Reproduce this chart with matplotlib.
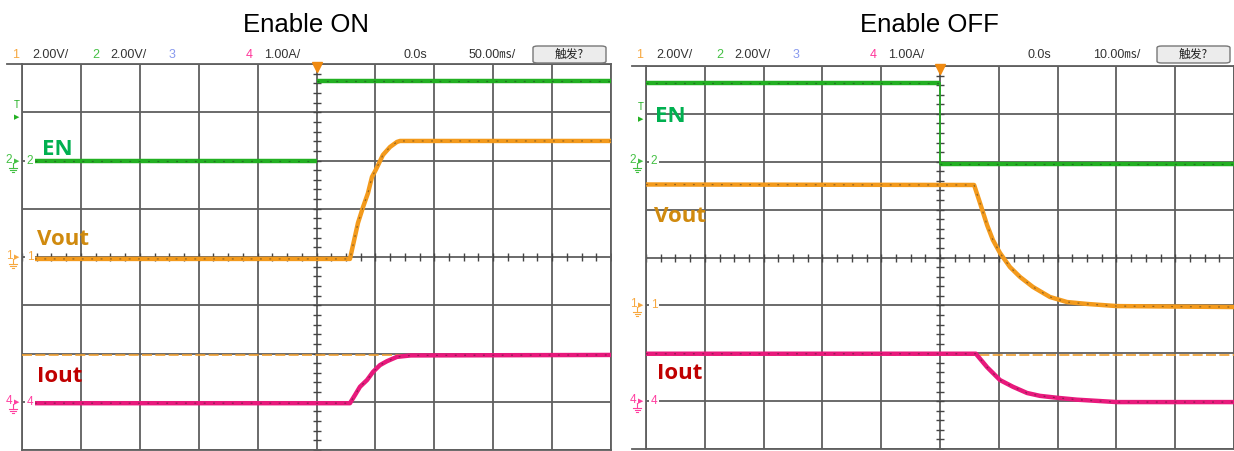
import numpy as np
import matplotlib
matplotlib.use("Agg")
import matplotlib.pyplot as plt
from matplotlib.lines import Line2D
from matplotlib.patches import FancyBboxPatch

W, H = 1234, 451

# ---- waveform data (time in ms, value in V or A) ----
# Enable ON, 50 ms/div
en_on_t = [-239, 0, 0, 250]
en_on_v = [0.0, 0.0, 3.3, 3.3]

vout_on_t = [-239, 28.4, 35.2, 39.5, 43.7, 47.1, 50.3, 56.4, 62.4, 68.3, 70.9, 250]
vout_on_v = [-0.08, -0.08, 1.41, 2.07, 2.65, 3.32, 3.61, 4.23, 4.56, 4.77, 4.81, 4.81]

iout_on_t = [-239, 28.4, 32.7, 36.9, 42.9, 48.0, 53.9, 59.8, 68.3, 80.0, 250]
iout_on_a = [-0.03, -0.03, 0.14, 0.31, 0.45, 0.62, 0.76, 0.84, 0.93, 0.96, 0.97]

# Enable OFF, 10 ms/div
en_off_t = [-50, 0, 0, 50]
en_off_v = [3.3, 3.3, -0.1, -0.1]

vout_off_t = [-50, 5.8, 6.8, 8.0, 9.0, 10.2, 11.9, 13.6, 15.8, 18.7, 21.6, 25.0, 30.1, 50]
vout_off_v = [5.05, 5.03, 4.28, 3.36, 2.73, 2.19, 1.60, 1.19, 0.77, 0.35, 0.14, 0.06, -0.03, -0.07]

iout_off_t = [-50, 6.1, 8.0, 10.2, 12.4, 14.8, 17.0, 19.9, 23.3, 30.1, 50]
iout_off_a = [0.99, 0.99, 0.71, 0.44, 0.30, 0.17, 0.11, 0.07, 0.03, -0.02, -0.02]

# channel settings: volts (amps) per div, ground offset in divisions
ch_scale = {"1": 2.0, "2": 2.0, "4": 1.0}
on_offset = {"1": 0.0, "2": 2.0, "4": -3.0}
off_offset = {"1": -1.0, "2": 2.0, "4": -3.0}
cursor_div = -2.03

C1 = "#f39a1c"
C2 = "#22b022"
C4 = "#e8197c"
GRID = "#5f5f5f"

plt.rcParams["font.family"] = ["Liberation Sans", "Noto Sans CJK SC", "DejaVu Sans"]

fig = plt.figure(figsize=(W / 100, H / 100), dpi=100)
fig.patch.set_facecolor("white")


def px(x, y):
    return x / W, 1 - y / H


def ftext(x, y, s, **kw):
    fig.text(*px(x, y), s, **kw)


def fline(x0, x1, y0, y1, **kw):
    fig.add_artist(Line2D([x0 / W, x1 / W], [1 - y0 / H, 1 - y1 / H], **kw))


def make_panel(left, top, right, bottom, tdiv):
    ax = fig.add_axes([left / W, 1 - bottom / H, (right - left) / W, (bottom - top) / H])
    ax.set_xlim(-5 * tdiv, 5 * tdiv)
    ax.set_ylim(-4, 4)
    ax.set_xticks(np.arange(-5, 6) * tdiv)
    ax.set_yticks(np.arange(-4, 5))
    ax.tick_params(length=0, labelbottom=False, labelleft=False)
    ax.grid(True, color=GRID, lw=1.3)
    for s in ax.spines.values():
        s.set_color(GRID)
        s.set_linewidth(1.3)
    # minor ticks along the centre lines
    ax.plot(np.zeros(41), np.linspace(-4, 4, 41), ls="none", marker="_",
            ms=6, mew=1, color="#444444", zorder=2)
    ax.plot(np.linspace(-5, 5, 41) * tdiv, np.zeros(41), ls="none", marker="|",
            ms=6, mew=1, color="#444444", zorder=2)
    ax.axhline(cursor_div, color="#f0a030", lw=1.2, ls=(0, (6, 2)), zorder=3)
    # trigger position marker
    ax.plot([0], [3.93], marker="v", ms=6.5, color="#f08a10", clip_on=False, zorder=6)
    return ax


def trace(ax, t, v, ch, offsets, color):
    t = np.array(t, dtype=float)
    y = offsets[ch] + np.array(v) / ch_scale[ch]
    # break the line at vertical steps (the scope draws the edge very faint)
    step = np.where(np.diff(t) == 0)[0]
    t = np.insert(t, step + 1, np.nan)
    y = np.insert(y, step + 1, np.nan)
    ax.plot(t, y, color=color, lw=3.2, solid_capstyle="butt", zorder=4)
    ax.plot(t, y, color="#222222", lw=0.9, ls=(0, (1.5, 6)), alpha=0.45, zorder=5)


# ---- left panel: Enable ON ----
ax1 = make_panel(22, 64, 611, 450, 50)
trace(ax1, en_on_t, en_on_v, "2", on_offset, C2)
trace(ax1, vout_on_t, vout_on_v, "1", on_offset, C1)
trace(ax1, iout_on_t, iout_on_a, "4", on_offset, C4)

# ---- right panel: Enable OFF ----
ax2 = make_panel(646, 66, 1234, 449, 10)
trace(ax2, en_off_t, en_off_v, "2", off_offset, C2)
trace(ax2, vout_off_t, vout_off_v, "1", off_offset, C1)
trace(ax2, iout_off_t, iout_off_a, "4", off_offset, C4)
ax2.plot([0, 0], [off_offset["2"] + en_off_v[0] / 2, off_offset["2"] + en_off_v[-1] / 2],
         color=C2, lw=1.2, zorder=3)

# frame lines extending past the grid
fline(7, 22, 64, 64, color=GRID, lw=1.3)
fline(632, 646, 66, 66, color=GRID, lw=1.3)
fline(632, 646, 449, 449, color=GRID, lw=1.3)

# titles
ftext(306, 32, "Enable ON", fontsize=18.5, ha="center", va="baseline", color="black")
ftext(929, 32, "Enable OFF", fontsize=18.5, ha="center", va="baseline", color="black")

# header rows
hdr = dict(fontsize=9, va="baseline",
           family=["Liberation Sans Narrow", "Liberation Sans", "Noto Sans CJK SC"])


def header(x0, tdiv_text):
    ftext(x0 + 12, 58, "1", color="#f7a840", **hdr)
    ftext(x0 + 32, 58, "2.00V/", color="#333333", **hdr)
    ftext(x0 + 92, 58, "2", color="#44c044", **hdr)
    ftext(x0 + 110, 58, "2.00V/", color="#333333", **hdr)
    ftext(x0 + 169, 58, "3", color="#8899ee", **hdr)
    ftext(x0 + 246, 58, "4", color="#ff3399", **hdr)
    ftext(x0 + 264, 58, "1.00A/", color="#333333", **hdr)
    ftext(x0 + 403, 58, "0.0s", color="#333333", **hdr)
    ftext(x0 + 469, 58, tdiv_text, color="#333333", **hdr)
    bx, by = px(x0 + 533, 63)
    bw, bh = 73 / W, 17 / H
    fig.add_artist(FancyBboxPatch((bx, by), bw, bh, boxstyle="round,pad=0,rounding_size=0.004",
                                  transform=fig.transFigure, fc="#ececec", ec="#777777", lw=1))
    ftext(x0 + 569, 58, "触发?", color="#222222", ha="center",
          fontsize=8.5, va="baseline", family=["Noto Sans CJK SC", "DejaVu Sans"])


header(0, "50.00㎳/")
header(624, "10.00㎳/")

# channel markers on the left edge
mk = dict(fontsize=8.5, va="center", family=["Liberation Sans Narrow", "Liberation Sans"])


def ground(x, y, col):
    # small earth symbol below the channel marker
    fline(x, x, y, y + 5, color=col, lw=0.8)
    fline(x - 4, x + 4, y + 5, y + 5, color=col, lw=0.8)
    fline(x - 2.5, x + 2.5, y + 7, y + 7, color=col, lw=0.8)
    fline(x - 1, x + 1, y + 9, y + 9, color=col, lw=0.8)


def markers(x0, rows, ty):
    ftext(x0 + 17, ty, "T", color=C2, ha="center", fontsize=7, va="center")
    ftext(x0 + 17, ty + 12, "▶", color=C2, ha="center", fontsize=5, va="center",
          family=["DejaVu Sans"])
    for ch, y, col in rows:
        ftext(x0 + 9, y - 1, ch, color=col, ha="center", **mk)
        ftext(x0 + 17, y, "▶", color=col, ha="center", fontsize=5, va="center",
              family=["DejaVu Sans"])
        ground(x0 + 13, y + 2, col)
        fig.text(*px(x0 + 30, y), ch, color=col, ha="center",
                 bbox=dict(fc="white", ec="none", pad=1.5), **mk)


markers(0, [("2", 161, "#44c044"), ("1", 257, "#f7a840"), ("4", 402, "#ff3fa0")], 105)
markers(624, [("2", 161, "#44c044"), ("1", 305, "#f7a840"), ("4", 401, "#ff3fa0")], 107)

# signal labels
lab = dict(fontsize=16, fontweight="bold", va="baseline", family=["Open Sans"])
ftext(42, 155, "EN", color="#00b050", **lab)
ftext(37, 245, "Vout", color="#d08a0e", **lab)
ftext(37, 382, "Iout", color="#c00000", **lab)
ftext(655, 122, "EN", color="#00b050", **lab)
ftext(654, 222, "Vout", color="#d08a0e", **lab)
ftext(657, 379, "Iout", color="#c00000", **lab)

fig.savefig("out.png", dpi=100, facecolor="white")
